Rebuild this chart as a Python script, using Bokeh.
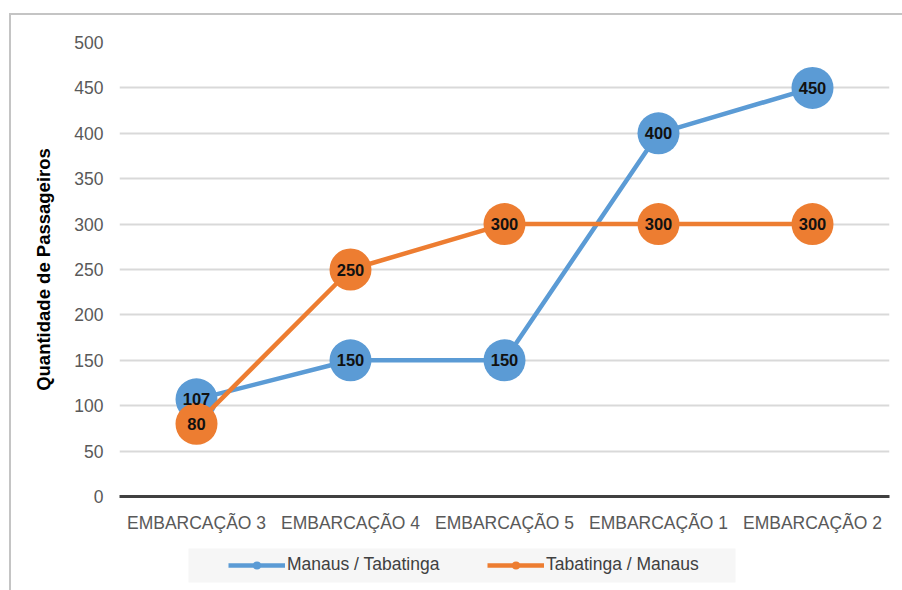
from bokeh.plotting import figure
from bokeh.layouts import column
from bokeh.models import (Range1d, FactorRange, FixedTicker, Legend, LegendItem,
                          ColumnDataSource, InlineStyleSheet, BoxAnnotation)
from bokeh.core.properties import value
from bokeh.embed import file_html
from bokeh.resources import INLINE

# Passenger counts per vessel, both directions
categories = ["EMBARCAÇÃO 3", "EMBARCAÇÃO 4", "EMBARCAÇÃO 5", "EMBARCAÇÃO 1", "EMBARCAÇÃO 2"]
manaus_tabatinga = [107, 150, 150, 400, 450]
tabatinga_manaus = [80, 250, 300, 300, 300]
series_names = ["Manaus / Tabatinga", "Tabatinga / Manaus"]
y_ticks = [0, 50, 100, 150, 200, 250, 300, 350, 400, 450, 500]

BLUE = "#5b9bd5"
ORANGE = "#ed7d31"
FONT = "Liberation Sans"
TICK_SIZE = "17.5px"

# ---- main chart -------------------------------------------------------------
p = figure(width=902, height=540, x_range=FactorRange(*categories, range_padding=0),
           y_range=Range1d(0, 500), output_backend="svg", toolbar_location=None,
           min_border_left=119, min_border_right=13, min_border_top=42,
           min_border_bottom=44)
p.outline_line_color = None
p.background_fill_color = "white"
p.border_fill_color = "white"

p.xgrid.grid_line_color = None
p.ygrid.grid_line_color = "#d9d9d9"
p.ygrid.grid_line_width = 2
p.yaxis.ticker = FixedTicker(ticks=y_ticks)

p.xaxis.axis_line_color = "#404040"
p.xaxis.axis_line_width = 3
p.xaxis.major_tick_line_color = None
p.xaxis.minor_tick_line_color = None
p.xaxis.major_tick_out = 0
p.xaxis.major_label_standoff = 16
p.xaxis.major_label_text_font = FONT
p.xaxis.major_label_text_font_size = TICK_SIZE
p.xaxis.major_label_text_color = "#595959"

p.yaxis.axis_line_color = None
p.yaxis.major_tick_line_color = None
p.yaxis.minor_tick_line_color = None
p.yaxis.major_tick_out = 0
p.yaxis.major_label_standoff = 16
p.yaxis.major_label_text_font = FONT
p.yaxis.major_label_text_font_size = TICK_SIZE
p.yaxis.major_label_text_color = "#595959"
p.yaxis.axis_label = "Quantidade de Passageiros"
p.yaxis.axis_label_text_font = FONT
p.yaxis.axis_label_text_font_style = "bold"
p.yaxis.axis_label_text_font_size = "18.5px"
p.yaxis.axis_label_text_color = "#000000"
p.yaxis.axis_label_standoff = 17

src_a = ColumnDataSource(dict(x=categories, y=manaus_tabatinga,
                              t=[str(v) for v in manaus_tabatinga]))
src_b = ColumnDataSource(dict(x=categories, y=tabatinga_manaus,
                              t=[str(v) for v in tabatinga_manaus]))

p.line("x", "y", source=src_a, line_color=BLUE, line_width=4.5)
p.scatter("x", "y", source=src_a, size=42, fill_color=BLUE, line_color=None)
p.line("x", "y", source=src_b, line_color=ORANGE, line_width=4.5)
p.scatter("x", "y", source=src_b, size=42, fill_color=ORANGE, line_color=None)

for src in (src_a, src_b):
    p.text("x", "y", text="t", source=src, text_align="center", text_baseline="middle",
           text_font=value(FONT), text_font_style="bold", text_font_size="16.5px",
           text_color="#111111")

# ---- legend strip (its frame lines up with the chart frame, x from 119) ----
lg = figure(width=902, height=50, x_range=Range1d(0, 1), y_range=Range1d(0, 1),
            output_backend="svg", toolbar_location=None,
            x_axis_location=None, y_axis_location=None,
            min_border_left=0, min_border_right=0, min_border_top=0, min_border_bottom=0)
lg.outline_line_color = None
lg.grid.grid_line_color = None
lg.background_fill_color = "white"
lg.border_fill_color = "white"

lg.add_layout(BoxAnnotation(left=69, right=616, bottom=8, top=42,
                            left_units="screen", right_units="screen",
                            top_units="screen", bottom_units="screen",
                            fill_color="#f6f6f6", fill_alpha=1, line_color=None,
                            level="underlay"))

# key glyphs: styled like the series, positioned off the visible range
off = [-1, -1]
key_a = [lg.line(off, off, line_color=BLUE, line_width=4.5),
         lg.scatter(off, off, size=8, fill_color=BLUE, line_color=None)]
key_b = [lg.line(off, off, line_color=ORANGE, line_width=4.5),
         lg.scatter(off, off, size=8, fill_color=ORANGE, line_color=None)]

legend = Legend(items=[LegendItem(label=series_names[0], renderers=key_a),
                       LegendItem(label=series_names[1], renderers=key_b)],
                orientation="horizontal", location=(109, 15),
                background_fill_alpha=0, border_line_color=None,
                glyph_width=57, glyph_height=20, label_standoff=2, spacing=35,
                label_width=165, padding=0, margin=0, label_text_font=FONT,
                label_text_font_size=TICK_SIZE, label_text_color="#404040")
lg.add_layout(legend, "center")

layout = column(p, lg, spacing=0)
# thin grey frame around the whole chart (top and left edges are visible)
layout.stylesheets = [InlineStyleSheet(css="""
:host::after {
  content: "";
  position: absolute;
  left: 9px; top: 13px;
  width: 893px; height: 577px;
  box-sizing: border-box;
  border-top: 2px solid #c4c4c4;
  border-left: 2px solid #c4c4c4;
  pointer-events: none;
}
""")]

open("out.html", "w").write(file_html(layout, INLINE))
